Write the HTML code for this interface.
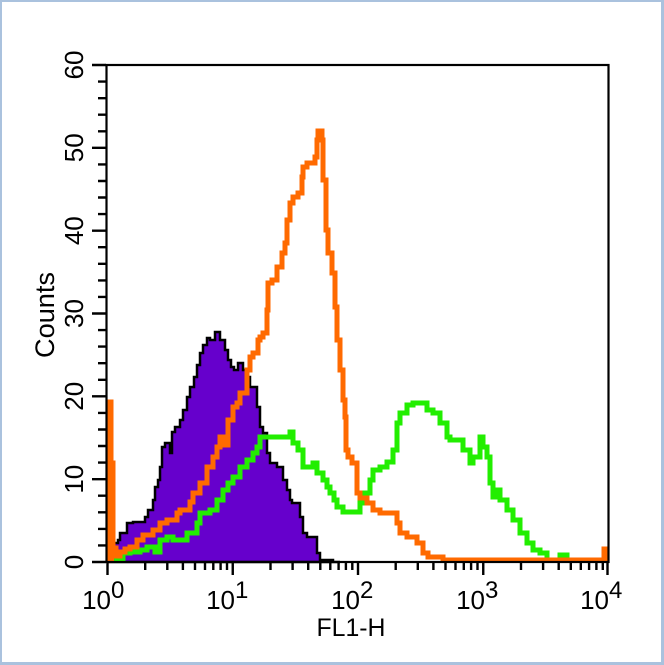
<!DOCTYPE html>
<html><head><meta charset="utf-8"><style>
html,body{margin:0;padding:0;background:#fff;}
.frame{position:absolute;left:0;top:0;width:659px;height:660px;border-left:2px solid #aac2de;border-top:2px solid #aac2de;border-right:3px solid #aac2de;border-bottom:3px solid #aac2de;background:#fff;}
svg{position:absolute;left:0;top:0;}
text{font-family:"Liberation Sans",Arial,sans-serif;fill:#000;}
</style></head><body>
<div class="frame"></div>
<svg width="664" height="665" viewBox="0 0 664 665" xmlns="http://www.w3.org/2000/svg">
<path fill="#6600cc" stroke="#000" stroke-width="2.5" stroke-linejoin="miter" d="M108,562 V552 H112 V543 H118 V540 H120 V533 H127 V523 H133 V522 H145 V517 H148 V510 H153 V500 H155 V487 H158 V480 H160 V467 H162 V447 H165 V443 H170 V453 H172 V432 H175 V427 H180 V420 H183 V410 H187 V397 H190 V387 H194 V377 H197 V365 H200 V353 H203 V345 H207 V338 H210 V340 H215 V332 H220 V340 H225 V350 H228 V360 H231 V367 H234 V370 H238 V363 H243 V370 H247 V377 H250 V387 H257 V407 H260 V427 H263 V433 H267 V453 H270 V463 H277 V467 H283 V480 H287 V490 H290 V500 H292 V503 H300 V517 H303 V533 H307 V537 H317 V553 H320 V560 H333 V562 H340 Z"/>
<path fill="none" stroke="#22ee00" stroke-width="5" stroke-linejoin="miter" d="M110,561 V560 H123 V553 H130 V552 H140 V550 H147 V547 H155 V552 H160 V540 H167 V537 H173 V540 H187 V533 H197 V523 H200 V513 H210 V510 H217 V500 H223 V490 H228 V483 H233 V477 H240 V467 H247 V460 H253 V453 H257 V447 H260 V437 H265 H290 V432 H293 V443 H298 V450 H303 V467 H307 H313 V463 H317 V473 H323 V480 H327 V487 H330 V493 H334 V500 H337 V507 H343 V512 H360 V503 H363 V493 H370 V480 H373 V470 H380 V467 H387 V462 H393 V450 H397 V423 H400 V413 H407 V405 H413 V403 H427 V410 H433 V413 H440 V423 H447 V437 H450 V440 H463 V450 H470 V463 H473 V457 H480 V437 H483 V447 H487 V457 H490 V483 H493 V497 H497 V490 H500 V500 H507 V510 H513 V520 H520 V533 H527 V543 H533 V550 H540 V553 H547 V560 H560 V555 H567 V560 H575"/>
<path fill="none" stroke="#ff6a00" stroke-width="5" stroke-linejoin="miter" d="M109,562 V402 H111 V463 H113 V548 H116 V556 H120 V552 H125 V549 H130 V547 H137 V540 H143 V535 H153 V530 H160 V523 H167 V520 H177 V513 H180 V510 H190 V502 H193 V493 H200 V483 H207 V467 H213 V457 H217 V447 H220 V437 H223 V445 H228 V420 H233 V407 H237 V403 H240 V393 H247 V370 H250 V357 H253 V353 H258 V340 H260 V337 H263 V333 H267 V310 H268 V283 H272 V280 H277 V267 H282 V253 H285 V243 H287 V220 H290 V203 H293 V197 H298 V193 H302 V177 H303 V167 H307 V163 H315 V157 H317 V140 H318 V131 H322 V140 H323 V180 H326 V230 H328 V253 H332 V273 H335 V307 H337 V340 H340 V370 H343 V400 H345 V417 H346 V450 H348 V457 H352 V463 H357 V493 H360 V498 H367 V503 H373 V510 H380 V513 H397 V523 H400 V533 H407 V537 H417 V543 H423 V553 H428 V557 H443 V560 H604 V549 H607 V561"/>
<rect x="107" y="402" width="4" height="160" fill="#ff6a00"/>
<rect x="110" y="462" width="4" height="100" fill="#ff6a00"/>
<!-- axes box -->
<rect x="106.5" y="65" width="502" height="497" fill="none" stroke="#000" stroke-width="2.2"/>
<!-- y major ticks -->
<path stroke="#000" stroke-width="2.4" fill="none" d="M92,562H106 M92,479.2H106 M92,396.3H106 M92,313.5H106 M92,230.7H106 M92,147.8H106 M92,65H106"/>
<!-- y minor ticks -->
<path stroke="#000" stroke-width="2.4" fill="none" d="M98,545.4H106 M98,528.9H106 M98,512.3H106 M98,495.7H106 M98,462.6H106 M98,446H106 M98,429.5H106 M98,412.9H106 M98,379.8H106 M98,363.2H106 M98,346.6H106 M98,330.1H106 M98,296.9H106 M98,280.4H106 M98,263.8H106 M98,247.2H106 M98,214.1H106 M98,197.5H106 M98,181H106 M98,164.4H106 M98,131.3H106 M98,114.7H106 M98,98.2H106 M98,81.6H106"/>
<!-- x major ticks -->
<path stroke="#000" stroke-width="2.4" fill="none" d="M107.5,562V575 M232.75,562V575 M358,562V575 M483.25,562V575 M607.5,562V575"/>
<!-- x minor ticks -->
<path stroke="#000" stroke-width="2.4" fill="none" d="M145.2,562V570 M167.3,562V570 M182.9,562V570 M195,562V570 M205,562V570 M213.3,562V570 M220.6,562V570 M227,562V570 M270.5,562V570 M292.6,562V570 M308.2,562V570 M320.3,562V570 M330.3,562V570 M338.6,562V570 M345.9,562V570 M352.3,562V570 M395.7,562V570 M417.8,562V570 M433.4,562V570 M445.5,562V570 M455.5,562V570 M463.8,562V570 M471.1,562V570 M477.5,562V570 M521,562V570 M543.1,562V570 M558.7,562V570 M570.8,562V570 M580.8,562V570 M589.1,562V570 M596.4,562V570 M602.8,562V570"/>
<g font-size="26" text-anchor="middle">
<text transform="translate(83,562) rotate(-90)">0</text>
<text transform="translate(83,479.2) rotate(-90)">10</text>
<text transform="translate(83,396.3) rotate(-90)">20</text>
<text transform="translate(83,313.5) rotate(-90)">30</text>
<text transform="translate(83,230.7) rotate(-90)">40</text>
<text transform="translate(83,147.8) rotate(-90)">50</text>
<text transform="translate(83,65) rotate(-90)">60</text>
</g>
<text transform="translate(54,315) rotate(-90)" font-size="27" text-anchor="middle" textLength="86" lengthAdjust="spacingAndGlyphs">Counts</text>
<text x="351" y="636" font-size="25" text-anchor="middle" textLength="69" lengthAdjust="spacingAndGlyphs">FL1-H</text>
<g font-size="26">
<text x="111" y="609" text-anchor="end">10</text><text x="111" y="598" font-size="24">0</text>
<text x="235" y="609" text-anchor="end">10</text><text x="235" y="598" font-size="24">1</text>
<text x="360" y="609" text-anchor="end">10</text><text x="360" y="598" font-size="24">2</text>
<text x="485" y="609" text-anchor="end">10</text><text x="485" y="598" font-size="24">3</text>
<text x="609" y="609" text-anchor="end">10</text><text x="609" y="598" font-size="24">4</text>
</g>
</svg>
</body></html>
